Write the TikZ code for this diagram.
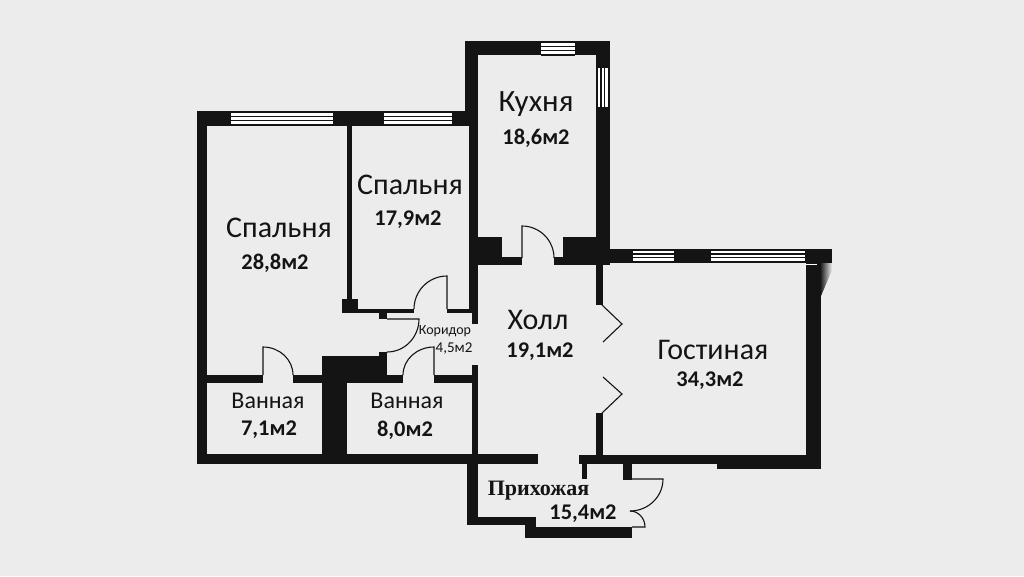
\documentclass[tikz,border=0pt]{standalone}
\usepackage{fontspec}
\setmainfont{Carlito}
\newfontfamily\serifbold{Liberation Serif}[Scale=1]
\definecolor{bgc}{HTML}{ECECEC}
\definecolor{ink}{HTML}{141414}
\tikzset{
  wall/.style={fill=ink,draw=none},
  leaf/.style={draw=ink,line width=1.1pt},
  roomname/.style={text=ink,inner sep=0pt,font=\fontsize{30}{32}\selectfont},
  bathname/.style={text=ink,inner sep=0pt,font=\fontsize{24}{26}\selectfont},
  area/.style={text=ink,inner sep=0pt,font=\fontsize{22.4}{26}\selectfont\bfseries},
  small/.style={text=ink,inner sep=0pt,font=\fontsize{14}{16}\selectfont},
  glass/.style={fill=white,draw=none},
  glassline/.style={draw=ink,line width=1.1pt}
}
\newcommand{\hwin}[4]{% x1,x2,y1,y2
  \fill[glass] (#1,#3) rectangle (#2,#4);
  \foreach \f in {0,0.33,0.66,1}{\draw[glassline] (#1,{#3+\f*(#4-#3)}) -- (#2,{#3+\f*(#4-#3)});}
}
\newcommand{\vwin}[4]{% x1,x2,y1,y2
  \fill[glass] (#1,#3) rectangle (#2,#4);
  \foreach \f in {0,0.33,0.66,1}{\draw[glassline] ({#1+\f*(#2-#1)},#3) -- ({#1+\f*(#2-#1)},#4);}
}
\begin{document}
\begin{tikzpicture}[x=1pt,y=-1pt]
\useasboundingbox (0,0) rectangle (1024,576);
\fill[bgc] (0,0) rectangle (1024,576);
% outer and bedroom walls
\fill[wall] (197,111) rectangle (469,126);
\fill[wall] (197,111) rectangle (207,464);
\fill[wall] (197,454) rectangle (538,464);
\fill[wall] (347,126) rectangle (352,300);
\fill[wall] (342,299) rectangle (358,313);
\fill[wall] (358,309) rectangle (414,313);
\fill[wall] (447,309) rectangle (472,313);
\fill[wall] (379,313) rectangle (387,319);
% kitchen
\fill[wall] (465,41) rectangle (610,55);
\fill[wall] (465,41) rectangle (478,126);
\fill[wall] (469,111) rectangle (478,309);
\fill[wall] (472,309) rectangle (478,324);
\fill[wall] (596,41) rectangle (610,263);
\fill[wall] (478,237) rectangle (502,265);
\fill[wall] (478,257) rectangle (522,265);
\fill[wall] (554,257) rectangle (596,265);
\fill[wall] (563,237) rectangle (610,265);
% hall
\fill[wall] (472,365) rectangle (478,455);
\fill[wall] (596,263) rectangle (603,305);
\fill[wall] (596,413) rectangle (603,455);
\fill[wall] (579,455) rectangle (821,464);
% living room
\fill[wall] (610,249) rectangle (832,263);
\fill[wall] (806,263) rectangle (821,469);
\fill[wall] (717,460) rectangle (821,469);
\shade[left color=ink,right color=bgc,draw=none] (820,263) -- (832,263) -- (832,270) -- (821,296) -- (820,296) -- cycle;
\fill[white] (805,263.5) rectangle (817,265);
% baths
\fill[wall] (207,375) rectangle (263,383);
\fill[wall] (293,375) rectangle (322,383);
\fill[wall] (322,356) rectangle (347,454);
\fill[wall] (322,356) rectangle (387,375);
\fill[wall] (379,352) rectangle (387,356);
\fill[wall] (347,375) rectangle (403,383);
\fill[wall] (434,375) rectangle (472,383);
% entrance hall
\fill[wall] (467,464) rectangle (478,525);
\fill[wall] (467,517) rectangle (536,525);
\fill[wall] (525,525) rectangle (536,538);
\fill[wall] (525,527) rectangle (632,538);
\fill[wall] (582,464) rectangle (587,479);
\fill[wall] (623,464) rectangle (632,480);
% windows
\hwin{231}{333}{112}{125}
\hwin{384}{452}{112}{125}
\hwin{541}{575}{42}{55}
\vwin{597}{609}{68}{107}
\hwin{633}{674}{250}{262}
\hwin{711}{805}{250}{262}
% doors
\draw[leaf] (263,375) -- (263,347) arc[start angle=90,end angle=0,x radius=30,y radius=-28];
\draw[leaf] (434,375) -- (434,347) arc[start angle=90,end angle=180,x radius=31,y radius=-28];
\draw[leaf] (447,309) -- (447,276) arc[start angle=90,end angle=180,x radius=33,y radius=-33];
\draw[leaf] (387,319) -- (419,319) arc[start angle=0,end angle=-90,x radius=32,y radius=-33];
\draw[leaf] (522,258) -- (522,226) arc[start angle=90,end angle=0,x radius=32,y radius=-32];
\draw[leaf] (602,305) -- (622,324) -- (603,342);
\draw[leaf] (603,377) -- (622,394) -- (602,413);
\draw[leaf] (632,479) -- (663,479) arc[start angle=0,end angle=-90,x radius=33,y radius=-32];
\draw[leaf] (630,511) arc[start angle=90,end angle=0,x radius=15,y radius=-16] -- (632,527);
% labels
\node[roomname] (n1) at (279,228) {Спальня};
\node[area] (a1) at (275,263.5) {28,8м2};
\node[roomname] (n2) at (410,185) {Спальня};
\node[area] (a2) at (408,220) {17,9м2};
\node[roomname,font=\fontsize{31}{33}\selectfont] (n3) at (536,104) {Кухня};
\node[area] (a3) at (536,138) {18,6м2};
\node[roomname] (n4) at (538,320) {Холл};
\node[area] (a4) at (540,352) {19,1м2};
\node[roomname] (n5) at (713,350) {Гостиная};
\node[area] (a5) at (710,381) {34,3м2};
\node[bathname] (n6) at (268,401) {Ванная};
\node[area] (a6) at (269,430) {7,1м2};
\node[bathname] (n7) at (407,401) {Ванная};
\node[area] (a7) at (405,430) {8,0м2};
\node[small] (n8) at (445,331) {Коридор};
\node[small,font=\fontsize{15}{17}\selectfont] (a8) at (454,349) {4,5м2};
\node[text=ink,inner sep=0pt,font=\fontsize{22}{24}\selectfont\serifbold\bfseries] (n9) at (538.5,491) {Прихожая};
\node[area] (a9) at (583,514) {15,4м2};
\end{tikzpicture}
\end{document}
